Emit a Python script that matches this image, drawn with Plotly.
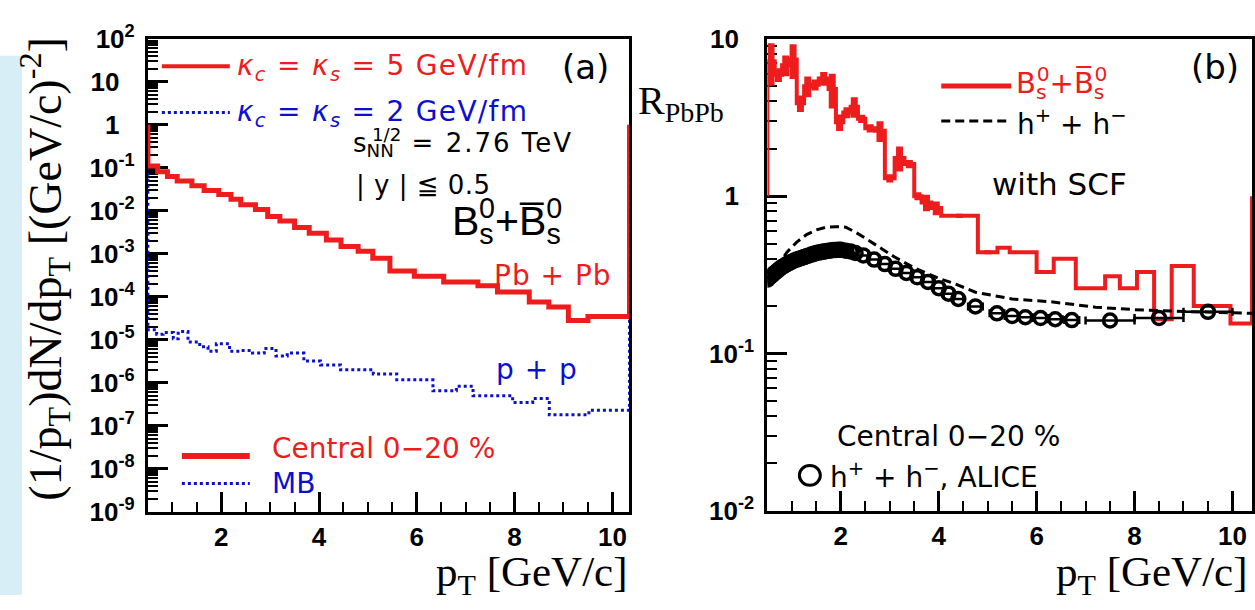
import plotly.graph_objects as go

W, H = 1255, 610

# ---------------- data ----------------
# (a) B_s^0 + anti-B_s^0 spectra, histogram bin edges [GeV/c] and contents
pbpb_edges = [0.5, 0.7, 0.9, 1.1, 1.4, 1.65, 1.95, 2.2, 2.4, 2.7, 2.95, 3.2, 3.5,
              3.8, 4.15, 4.45, 4.8, 5.1, 5.45, 5.95, 6.55, 7.25, 7.65, 8.3, 8.7,
              9.1, 9.5, 10.35]
pbpb_vals = [1.1e-1, 8.1e-2, 6.3e-2, 4.9e-2, 3.8e-2, 2.95e-2, 2.4e-2, 1.86e-2,
             1.38e-2, 1.07e-2, 7.4e-3, 5.8e-3, 4.1e-3, 3.0e-3, 2.1e-3, 1.48e-3,
             1.15e-3, 7.9e-4, 4.0e-4, 3.0e-4, 2.2e-4, 1.8e-4, 1.3e-4, 7.6e-5,
             5.8e-5, 2.8e-5, 3.5e-5]

pp_edges = [0.5, 0.68, 0.81, 1.02, 1.12, 1.32, 1.56, 1.73, 1.90, 2.17, 2.40, 2.64,
            2.88, 3.12, 3.35, 3.69, 4.03, 4.44, 5.11, 5.59, 6.33, 6.81, 7.15, 7.96,
            8.37, 8.71, 9.52, 10.35]
pp_vals = [1.7e-5, 1.35e-5, 1.48e-5, 1.05e-5, 1.55e-5, 8.9e-6, 6.9e-6, 5.4e-6,
           8.1e-6, 5.4e-6, 5.6e-6, 4.9e-6, 6.3e-6, 4.2e-6, 4.9e-6, 3.2e-6, 2.6e-6,
           2.0e-6, 1.6e-6, 1.17e-6, 6.5e-7, 8.3e-7, 5.0e-7, 3.5e-7, 4.3e-7, 1.8e-7,
           2.3e-7]

# (b) nuclear modification factor
raa_edges = [0.5, 0.65, 0.8, 0.95, 1.1, 1.25, 1.4, 1.55, 1.75, 1.9, 2.05, 2.2, 2.35,
             2.5, 2.7, 2.9, 3.1, 3.3, 3.5, 3.65, 3.85, 4.05, 4.8, 5.2, 5.45, 6.0,
             6.35, 6.8, 7.4, 7.7, 8.05, 8.4, 8.76, 9.21, 9.96, 10.4]
raa_vals = [7.2, 5.9, 6.8, 7.4, 3.9, 5.0, 5.1, 5.6, 4.8, 2.95, 3.4, 3.7, 3.1, 2.7,
            2.6, 1.3, 1.75, 1.6, 1.0, 0.91, 0.84, 0.75, 0.44, 0.47, 0.44, 0.33,
            0.40, 0.26, 0.31, 0.26, 0.33, 0.165, 0.36, 0.20, 0.155]
raa_rel_err = [0.30, 0.10, 0.15, 0.25, 0.12, 0.15, 0.08, 0.10, 0.25, 0.12, 0.08,
               0.15, 0.06, 0.06, 0.15, 0.06, 0.18, 0.06, 0.06, 0.12, 0.10, 0.03,
               0.03, 0.0, 0.0, 0.0, 0.0, 0.0, 0.0, 0.0, 0.0, 0.0, 0.0, 0.0, 0.0]

hh_pt = [0.5, 0.7, 0.9, 1.1, 1.3, 1.5, 1.7, 1.9, 2.1, 2.3, 2.5, 2.8, 3.1, 3.5, 4.0,
         4.3, 4.75, 5.5, 6.3, 7.2, 8.0, 9.0, 10.4]
hh_raa = [0.30, 0.36, 0.44, 0.51, 0.57, 0.61, 0.635, 0.64, 0.635, 0.59, 0.54, 0.47,
          0.41, 0.35, 0.30, 0.28, 0.245, 0.222, 0.213, 0.197, 0.19, 0.185, 0.18]

alice_pt = [0.50, 0.55, 0.60, 0.65, 0.70, 0.75, 0.80, 0.85, 0.90, 0.95, 1.00,
            1.05, 1.10, 1.15, 1.20, 1.25, 1.30, 1.35, 1.40, 1.45, 1.50, 1.55,
            1.60, 1.65, 1.70, 1.75, 1.80, 1.85, 1.90, 1.95, 2.00,
            2.1, 2.2, 2.3,
            2.46, 2.68, 2.9, 3.12, 3.34, 3.56, 3.78, 4.0, 4.2, 4.4,
            4.75, 5.19, 5.5, 5.77, 6.08, 6.38, 6.72,
            7.5, 8.5, 9.5]
alice_raa = [0.295, 0.305, 0.315, 0.325, 0.335, 0.345, 0.355, 0.362, 0.37, 0.377,
             0.383, 0.39, 0.395, 0.40, 0.405, 0.41, 0.415, 0.42, 0.425, 0.43,
             0.435, 0.438, 0.441, 0.444, 0.447, 0.45, 0.452, 0.454, 0.455, 0.456,
             0.456,
             0.45, 0.445, 0.435,
             0.42, 0.395, 0.37, 0.345, 0.325, 0.305, 0.285, 0.26, 0.24, 0.222,
             0.199, 0.18, 0.173, 0.17, 0.168, 0.165, 0.163,
             0.162, 0.168, 0.184]
alice_dpt = [0.025] * 31 + [0.05] * 3 + [0.1] * 10 + [0.15] * 7 + [0.5] * 3

left_ticks = [1e-9, 1e-8, 1e-7, 1e-6, 1e-5, 1e-4, 1e-3, 1e-2, 1e-1, 1, 10, 100]
PAD = "<sup>\u00a0\u00a0\u00a0</sup>"
left_ticktext = ["10<sup>-9</sup>", "10<sup>-8</sup>", "10<sup>-7</sup>",
                 "10<sup>-6</sup>", "10<sup>-5</sup>", "10<sup>-4</sup>",
                 "10<sup>-3</sup>", "10<sup>-2</sup>", "10<sup>-1</sup>",
                 "1" + PAD, "10" + PAD, "10<sup>2</sup>"]
right_ticks = [0.01, 0.1, 1, 10]
right_ticktext = ["10<sup>-2</sup>", "10<sup>-1</sup>", "1" + PAD, "10" + PAD]
pt_ticks = [2, 4, 6, 8, 10]

RED = "#ee1c1c"
BLUE = "#0a0fd0"
SANS = "DejaVu Sans"
SERIF = "Liberation Serif"


def outline(edges, vals, base=1.0):
    """Histogram outline, closed to `base` at both ends."""
    xs, ys = [edges[0]], [base]
    for i, v in enumerate(vals):
        xs += [edges[i], edges[i + 1]]
        ys += [v, v]
    xs.append(edges[-1])
    ys.append(base)
    return xs, ys


def log_minor(lo, hi):
    """2..9 x 10^k positions for decades lo..hi-1 (minor tick marks)."""
    return [m * 10.0 ** k for k in range(lo, hi) for m in range(2, 10)]


fig = go.Figure()

# ---- panel (a) ----
x, y = outline(pp_edges, pp_vals)
fig.add_trace(go.Scatter(x=x, y=y, mode="lines", xaxis="x", yaxis="y",
                         line=dict(color=BLUE, width=3, dash="3px,3px")))
x, y = outline(pbpb_edges, pbpb_vals)
fig.add_trace(go.Scatter(x=x, y=y, mode="lines", xaxis="x", yaxis="y",
                         line=dict(color=RED, width=5)))

# ---- panel (b) ----
x, y = outline(raa_edges, raa_vals)
fig.add_trace(go.Scatter(x=x, y=y, mode="lines", xaxis="x2", yaxis="y2",
                         line=dict(color=RED, width=4)))
centres = [(raa_edges[i] + raa_edges[i + 1]) / 2 for i in range(len(raa_vals))]
fig.add_trace(go.Scatter(
    x=centres, y=raa_vals, mode="markers", xaxis="x2", yaxis="y2",
    marker=dict(size=1, color=RED, opacity=0),
    error_y=dict(type="data", array=[v * e for v, e in zip(raa_vals, raa_rel_err)],
                 color=RED, thickness=7, width=0)))
fig.add_trace(go.Scatter(x=hh_pt, y=hh_raa, mode="lines", xaxis="x2", yaxis="y2",
                         line=dict(color="black", width=3, dash="9px,5px")))
fig.add_trace(go.Scatter(
    x=alice_pt, y=alice_raa, mode="markers", xaxis="x2", yaxis="y2",
    marker=dict(symbol="circle-open", size=13, color="black",
                line=dict(width=3.5)),
    error_x=dict(type="data", array=alice_dpt, color="black", thickness=2.5,
                 width=4)))

# empty traces so the minor-tick axes are laid out
fig.add_trace(go.Scatter(x=[None], y=[None], xaxis="x", yaxis="y3",
                         showlegend=False, hoverinfo="skip"))
fig.add_trace(go.Scatter(x=[None], y=[None], xaxis="x2", yaxis="y4",
                         showlegend=False, hoverinfo="skip"))


def px(v):
    return v / W


def py(v):
    return 1 - v / H


axis_common = dict(showline=True, linewidth=3, linecolor="black", mirror=True,
                   ticks="inside", tickcolor="black", showgrid=False,
                   zeroline=False, layer="below traces")
minor_axis = dict(ticks="inside", tickcolor="black", ticklen=10, tickwidth=1.5,
                  showticklabels=False, showline=False, showgrid=False,
                  zeroline=False, type="log", side="left", layer="below traces")
xfont = dict(family="Liberation Sans", size=26, color="black", weight="bold")
yfont = dict(family="Liberation Sans", size=26, color="black", weight="bold")

fig.update_layout(
    width=W, height=H, margin=dict(l=0, r=0, t=0, b=0),
    paper_bgcolor="white", plot_bgcolor="white", showlegend=False,
    xaxis=dict(domain=[px(148), px(630)], range=[0.5, 10.35], anchor="y",
               tickvals=pt_ticks, ticklen=20, tickwidth=2.5, tickfont=xfont,
               minor=dict(ticks="inside", dtick=0.5, ticklen=10, tickwidth=2,
                          tickcolor="black", showgrid=False),
               **axis_common),
    yaxis=dict(domain=[py(522), py(22)], type="log", range=[-9, 2], anchor="x",
               tickvals=left_ticks, ticktext=left_ticktext, ticklen=20,
               tickwidth=2.5, tickfont=yfont, ticklabelstandoff=5,
               **axis_common),
    yaxis3=dict(overlaying="y", anchor="x", range=[-9, 2],
                tickvals=log_minor(-9, 2), **minor_axis),
    xaxis2=dict(domain=[px(768), px(1253)], range=[0.5, 10.4], anchor="y2",
                tickvals=pt_ticks, ticklen=20, tickwidth=2.5, tickfont=xfont,
                minor=dict(ticks="inside", dtick=0.5, ticklen=10, tickwidth=2,
                           tickcolor="black", showgrid=False),
                **axis_common),
    yaxis2=dict(domain=[py(521), py(22)], type="log", range=[-2, 1], anchor="x2",
                tickvals=right_ticks, ticktext=right_ticktext, ticklen=20,
                tickwidth=2.5, tickfont=yfont, ticklabelstandoff=5,
                **axis_common),
    yaxis4=dict(overlaying="y2", anchor="x2", range=[-2, 1],
                tickvals=log_minor(-2, 1), **minor_axis),
)


def ls(text, spacing):
    return f'<span style="letter-spacing:{spacing}px">{text}</span>'


def back(n):
    return f'<span style="letter-spacing:-{n}px"> </span>'


anns = []


def text(t, x, y, size, color="black", family=SANS, xanchor="left",
         yanchor="middle", angle=0):
    anns.append(dict(text=t, x=px(x), y=py(y), xref="paper", yref="paper",
                     xanchor=xanchor, yanchor=yanchor, showarrow=False,
                     textangle=angle, borderpad=0,
                     font=dict(family=family, size=size, color=color)))


kappa = "<i>κ</i>"
# panel (a)
text(ls(f"{kappa}<sub><i>c</i></sub> = {kappa}<sub><i>s</i></sub> = 5 GeV/fm", 1.3),
     236, 52, 28, RED)
text(ls(f"{kappa}<sub><i>c</i></sub> = {kappa}<sub><i>s</i></sub> = 2 GeV/fm", 1.3),
     236, 101, 28, BLUE)
text("(a)", 561, 52, 34)
text("s<sub>NN</sub>" + back(30) + "<sup>1/2</sup>" + ls(" = 2.76 TeV", 2),
     352, 132, 26)
text(ls("| y | ≦ 0.5", 0.5), 355, 177, 26)
text("B<sub>s</sub>" + back(26) + "<sup>0</sup>+B\u0305<sub>s</sub>" + back(26)
     + "<sup>0</sup>", 451, 215, 41, family="Liberation Sans")
text(ls("Pb + Pb", 1), 493, 272, 28, RED)
text(ls("p + p", 1), 495, 372, 28, BLUE)
text("Central 0−20 %", 271, 455, 28, RED)
text("MB", 271, 492, 28, BLUE)
text("(1/p<sub>T</sub>)dN/dp<sub>T</sub> [(GeV/c)<sup>-2</sup>]", 45, 265, 46,
     family=SERIF, xanchor="center", angle=-90)
text("p<sub>T</sub> [GeV/c]", 630, 589, 43, family=SERIF, xanchor="right")

# panel (b)
text("R<sub>PbPb</sub>", 638, 90, 40, family=SERIF)
text("B<sub>s</sub>" + back(19) + "<sup>0</sup>+B\u0305<sub>s</sub>" + back(19)
     + "<sup>0</sup>", 1016, 69, 29, RED)
text("h<sup>+</sup> + h<sup>−</sup>", 1017, 111, 28)
text("(b)", 1191, 52, 34)
text("with SCF", 992, 176, 31)
text("Central 0−20 %", 837, 442, 28)
text("h<sup>+</sup> + h<sup>−</sup>, ALICE", 830, 484, 28)
text("p<sub>T</sub> [GeV/c]", 1250, 589, 43, family=SERIF, xanchor="right")

fig.update_layout(annotations=anns)


def seg(x0, y0, x1, y1, color, width, dash="solid"):
    return dict(type="line", xref="paper", yref="paper", x0=px(x0), y0=py(y0),
                x1=px(x1), y1=py(y1), line=dict(color=color, width=width, dash=dash))


shapes = [
    # slide-side tint on the far left
    dict(type="rect", xref="paper", yref="paper", x0=0, x1=px(22), y0=0,
         y1=py(40), fillcolor="#d8eef7", line=dict(width=0), layer="below"),
    seg(162, 51, 230, 51, RED, 4),
    seg(162, 100, 230, 100, BLUE, 3, "3px,3px"),
    seg(182, 463, 250, 463, RED, 6),
    seg(182, 492, 250, 492, BLUE, 3, "3px,3px"),
    seg(942, 72, 1012, 72, RED, 5),
    seg(942, 109, 1012, 109, "black", 3, "9px,5px"),
    dict(type="circle", xref="paper", yref="paper", x0=px(800), x1=px(821),
         y0=py(494), y1=py(473), line=dict(color="black", width=3)),
]
fig.update_layout(shapes=shapes)

fig.write_html("out.html")
